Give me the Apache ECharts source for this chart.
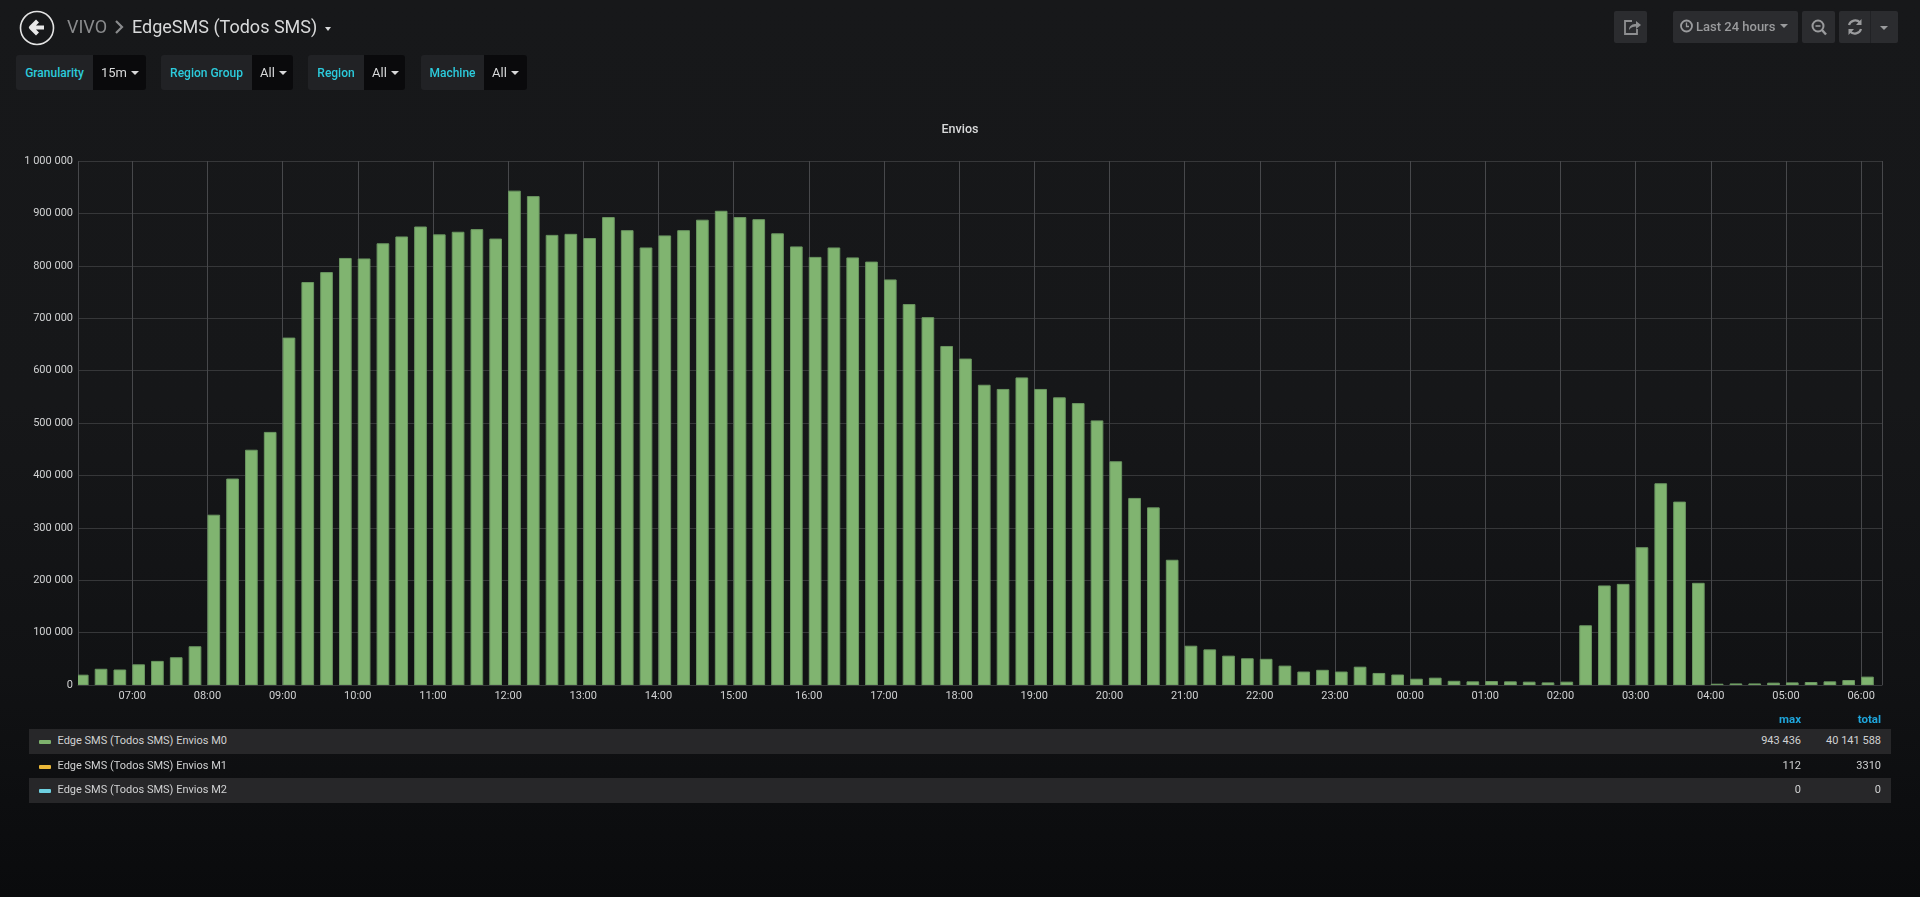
<!DOCTYPE html>
<html>
<head>
<meta charset="utf-8">
<title>EdgeSMS (Todos SMS)</title>
<script src="https://cdn.jsdelivr.net/npm/echarts@6/dist/echarts.min.js"></script>
<style>
html,body{margin:0;padding:0;width:1920px;height:897px;overflow:hidden;font-family:Roboto,"Noto Sans",sans-serif;
background:linear-gradient(180deg,#17181a 0,#161719 45%,#111214 75%,#0a0b0d 100%);}
#chart{position:absolute;left:0;top:0;width:1920px;height:897px;}
.abs{position:absolute;white-space:nowrap;}
.crumb{font-size:18px;line-height:24px;top:15px;}
.varlabel{position:absolute;top:55px;height:35px;line-height:36px;background:#212225;color:#2ccbdc;font-size:12px;font-weight:500;text-align:center;border-radius:3px 0 0 3px;}
.varvalue{position:absolute;top:55px;height:35px;line-height:35px;background:#0a0a0c;color:#d8d9da;font-size:13px;padding-left:8px;box-sizing:border-box;border-radius:0 3px 3px 0;}
.caret{display:inline-block;margin-left:4px;vertical-align:2px;border-left:4px solid transparent;border-right:4px solid transparent;border-top:4px solid #d8d9da;}
.btn{position:absolute;top:11px;height:32px;background:#2b2c2f;border-radius:2px;color:#9a9b9d;}
.row{position:absolute;left:29px;width:1862px;height:25px;line-height:23px;color:#d0d1d2;font-size:11px;}
.row.odd{background:#272729;}
.swatch{position:absolute;left:10px;top:11px;width:12px;height:4px;border-radius:1px;}
.rname{position:absolute;left:28.5px;top:0;}
.rmax{position:absolute;right:90px;top:0;}
.rtotal{position:absolute;right:10px;top:0;}
.hdr{position:absolute;top:712px;color:#1fa6dc;font-size:11.5px;font-weight:700;line-height:14px;}
</style>
</head>
<body>
<div id="chart"></div>

<svg class="abs" style="left:18px;top:9px" width="38" height="38" viewBox="0 0 38 38">
  <circle cx="19" cy="19" r="16.5" fill="none" stroke="#e3e3e3" stroke-width="1.6"/>
  <path d="M19.5 12 L13 18.5 L19.5 25 M14 18.5 H26" fill="none" stroke="#e8e8e8" stroke-width="4.2" stroke-linejoin="round"/>
</svg>
<div class="abs crumb" style="left:67px;color:#8a8b8d">VIVO</div>
<svg class="abs" style="left:114px;top:19px" width="10" height="16" viewBox="0 0 10 16"><path d="M2 2 L8 8 L2 14" fill="none" stroke="#8a8b8d" stroke-width="2.2"/></svg>
<div class="abs crumb" style="left:132px;color:#d8d9da">EdgeSMS (Todos SMS)</div>
<div class="abs" style="left:325px;top:27px;border-left:3.5px solid transparent;border-right:3.5px solid transparent;border-top:4px solid #d8d9da;"></div>

<div class="varlabel" style="left:16px;width:77px">Granularity</div><div class="varvalue" style="left:93px;width:53px">15m<span class="caret"></span></div>
<div class="varlabel" style="left:161px;width:91px">Region Group</div><div class="varvalue" style="left:252px;width:41px">All<span class="caret"></span></div>
<div class="varlabel" style="left:308px;width:56px">Region</div><div class="varvalue" style="left:364px;width:41px">All<span class="caret"></span></div>
<div class="varlabel" style="left:421px;width:63px">Machine</div><div class="varvalue" style="left:484px;width:43px">All<span class="caret"></span></div>

<div class="btn" style="left:1614px;width:33px">
  <svg width="33" height="32" viewBox="0 0 33 32"><path d="M18 10 H11 V23 H23 V18" fill="none" stroke="#8e8f91" stroke-width="1.8"/><path d="M15 19 C15 14 19 13 22 13 V10 L27 14 L22 18 V15.5 C19 15.5 17 16 15 19 Z" fill="#8e8f91"/></svg>
</div>
<div class="btn" style="left:1673px;width:125px">
  <svg class="abs" style="left:5px;top:6px" width="18" height="18" viewBox="0 0 18 18"><circle cx="8.5" cy="9" r="5.5" fill="none" stroke="#9a9b9d" stroke-width="1.8"/><path d="M8.5 5.5 V9.5 H11" fill="none" stroke="#9a9b9d" stroke-width="1.3"/></svg>
  <span class="abs" style="left:23px;top:0;line-height:31px;font-size:13px;font-weight:500">Last 24 hours</span>
  <span class="abs" style="left:107px;top:13px;border-left:4px solid transparent;border-right:4px solid transparent;border-top:4.5px solid #9a9b9d"></span>
</div>
<div class="btn" style="left:1802px;width:33px">
  <svg width="33" height="32" viewBox="0 0 33 32"><circle cx="16" cy="15" r="5.5" fill="none" stroke="#9a9b9d" stroke-width="2"/><path d="M13.5 15 H18.5" stroke="#9a9b9d" stroke-width="1.6"/><path d="M20 19 L24 23.5" stroke="#9a9b9d" stroke-width="2.4"/></svg>
</div>
<div class="btn" style="left:1839px;width:59px">
  <svg class="abs" style="left:0;top:0" width="32" height="32" viewBox="0 0 32 32"><path d="M10 14 A6.5 6.5 0 0 1 21 11.5 M22 18 A6.5 6.5 0 0 1 11 20.5" fill="none" stroke="#9a9b9d" stroke-width="2.2"/><path d="M22.5 8 V14 H17 Z M9.5 24 V18 H15 Z" fill="#9a9b9d"/></svg>
  <span class="abs" style="left:31px;top:0;width:1px;height:32px;background:#212225"></span>
  <span class="abs" style="left:41px;top:15px;border-left:4px solid transparent;border-right:4px solid transparent;border-top:4.5px solid #9a9b9d"></span>
</div>

<div id="legend"></div>

<script>
// ---- data ----
var chartTitle = 'Envios';
var firstBucket = [2019, 0, 1, 6, 15];      // first 15-minute bucket
var bucketMinutes = 15;
var axisStart = [2019, 0, 1, 6, 16, 40];
var axisEnd = [2019, 0, 2, 6, 16, 40];
var valuesM0 = [
  19700, 31000, 29600, 39500, 46000, 53000, 74000,
  325000, 394000, 449000, 483000, 663000, 769000, 788000, 815000,
  814000, 843000, 856000, 875000, 860000, 865000, 870000, 852000,
  943436, 933000, 859000, 861000, 853000, 893000, 868000, 835000,
  858000, 868000, 888000, 905000, 893000, 889000, 862000, 837000,
  817000, 835000, 816000, 808000, 774000, 727000, 702000, 647000,
  623000, 573000, 565000, 587000, 565000, 549000, 538000, 505000,
  427000, 357000, 339000, 239000, 75000, 68000, 56000, 51000,
  50000, 37000, 25700, 29000, 25700, 35000, 23000, 20000,
  12000, 14000, 8000, 7000, 7600, 7000, 6400, 5000,
  6400, 114000, 190000, 193000, 263000, 385000, 350000, 195000,
  2500, 3000, 3000, 4500, 5000, 5700, 7000, 9500,
  16000
];
var yTicks = [0, 1000000];
var yStep = 100000;
var legendNames = ['Edge SMS (Todos SMS) Envios M0', 'Edge SMS (Todos SMS) Envios M1', 'Edge SMS (Todos SMS) Envios M2'];
var legendColors = ['#7EB26D', '#EAB839', '#6ED0E0'];
var legendMax = ['943 436', '112', '0'];
var legendTotal = ['40 141 588', '3310', '0'];

// ---- legend table ----
var lg = document.getElementById('legend');
var html = '<div class="hdr" style="right:119px">max</div><div class="hdr" style="right:39px">total</div>';
var rowTops = [729, 754, 778];
legendNames.forEach(function (n, i) {
  html += '<div class="row' + (i % 2 === 0 ? ' odd' : '') + '" style="top:' + rowTops[i] + 'px">' +
    '<span class="swatch" style="background:' + legendColors[i] + '"></span>' +
    '<span class="rname">' + n + '</span><span class="rmax">' + legendMax[i] + '</span>' +
    '<span class="rtotal">' + legendTotal[i] + '</span></div>';
});
lg.innerHTML = html;

// ---- chart ----
function d(a) { return new Date(a[0], a[1], a[2], a[3], a[4], a[5] || 0).getTime(); }
var t0 = d(firstBucket), stepMs = bucketMinutes * 60000;
var points = valuesM0.map(function (v, i) { return [t0 + i * stepMs, v]; });

var chart = echarts.init(document.getElementById('chart'), null, { renderer: 'canvas' });
chart.setOption({
  backgroundColor: 'transparent',
  animation: false,
  title: {
    text: chartTitle, left: 'center', top: 118,
    textStyle: { color: '#d8d9da', fontFamily: 'Roboto', fontSize: 12.5, fontWeight: 500 }
  },
  grid: { left: 78, right: 38, top: 161, bottom: 212, containLabel: false },
  xAxis: {
    type: 'time', min: d(axisStart), max: d(axisEnd),
    splitNumber: 24, minInterval: 3600000, maxInterval: 3600000,
    axisLine: { show: true, lineStyle: { color: '#38393b', width: 1 } },
    axisTick: { show: false },
    axisLabel: {
      color: '#d0d1d2', fontFamily: 'Roboto', fontSize: 11, margin: 6,
      formatter: '{HH}:{mm}', hideOverlap: false, showMinLabel: false, showMaxLabel: false
    },
    splitLine: { show: true, lineStyle: { color: '#47484b', width: 1 } }
  },
  yAxis: {
    type: 'value', min: yTicks[0], max: yTicks[1], interval: yStep,
    axisLine: { show: false }, axisTick: { show: false },
    axisLabel: {
      color: '#d0d1d2', fontFamily: 'Roboto', fontSize: 11, margin: 5,
      formatter: function (v) { return String(v).replace(/\B(?=(\d{3})+$)/g, ' '); }
    },
    splitLine: { show: true, lineStyle: { color: '#363739', width: 1 } }
  },
  series: [{
    name: legendNames[0],
    type: 'custom',
    clip: true,
    data: points,
    encode: { x: 0, y: 1 },
    renderItem: function (params, api) {
      var t = api.value(0), v = api.value(1);
      var a = api.coord([t, v]);
      var b = api.coord([t + stepMs * 0.675, 0]);
      return {
        type: 'rect',
        shape: { x: a[0] + 0.5, y: a[1] + 0.5, width: b[0] - a[0] - 1, height: b[1] - a[1] - 0.5 },
        style: { fill: '#80b470', stroke: '#6a9660', lineWidth: 1 }
      };
    }
  }]
});
</script>
</body>
</html>
